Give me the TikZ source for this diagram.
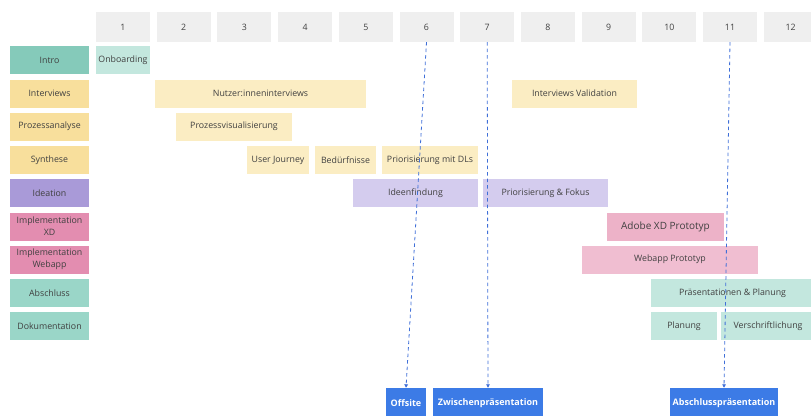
\documentclass[tikz,border=0pt]{standalone}
\usepackage{fontspec}
\setmainfont{Open Sans}
\usetikzlibrary{arrows.meta}

\definecolor{weekgray}{HTML}{EFEFEF}
\definecolor{introteal}{HTML}{85CABA}
\definecolor{laneyellow}{HTML}{F8DF9C}
\definecolor{lanepurple}{HTML}{A99AD8}
\definecolor{lanepink}{HTML}{E38DB0}
\definecolor{laneteal}{HTML}{9AD6C8}
\definecolor{barteal}{HTML}{C3E7DE}
\definecolor{baryellow}{HTML}{FBEDC3}
\definecolor{barpurple}{HTML}{D4CCEE}
\definecolor{barpink}{HTML}{EDB2C8}
\definecolor{barpinklight}{HTML}{F0BED1}
\definecolor{msblue}{HTML}{3C7BE6}
\definecolor{linkblue}{HTML}{3F6FD8}

\begin{document}
\begin{tikzpicture}[x=1pt, y=-1pt,
    box/.style={inner sep=0pt, align=center, text=black!75, font=\fontsize{8.8}{12}\selectfont},
    week/.style={box, fill=weekgray, minimum width=54pt, minimum height=30pt},
    lane/.style={box, minimum width=79pt, minimum height=28pt},
    task/.style={box, minimum height=28pt},
    milestone/.style={box, fill=msblue, text=white, font=\fontsize{9}{10}\selectfont\bfseries, minimum height=30pt},
    link/.style={draw=linkblue, line width=0.8pt, dash pattern=on 3.5pt off 3pt, -{Triangle[length=3.5pt, width=3.5pt]}}]
    \path[use as bounding box, clip] (0, 0) rectangle (811, 415);

    % weeks
    \foreach \i in {1, ..., 12} {
        \node[week] (w\i) at ({123 + 60.7*(\i - 1)}, 27) {\i};
    }

    % lanes
    \node[lane, fill=introteal] (intro) at (49.5, 60) {Intro};
    \node[lane, fill=laneyellow] (interviews) at (49.5, 93.5) {Interviews};
    \node[lane, fill=laneyellow] (analyse) at (49.5, 126.5) {Prozessanalyse};
    \node[lane, fill=laneyellow] (synthese) at (49.5, 160) {Synthese};
    \node[lane, fill=lanepurple] (ideation) at (49.5, 193) {Ideation};
    \node[lane, fill=lanepink] (implxd) at (49.5, 226.5) {Implementation\\XD};
    \node[lane, fill=lanepink] (implweb) at (49.5, 259.5) {Implementation\\Webapp};
    \node[lane, fill=laneteal] (abschluss) at (49.5, 293) {Abschluss};
    \node[lane, fill=laneteal] (doku) at (49.5, 326) {Dokumentation};

    % tasks
    \node[task, fill=barteal, minimum width=54pt] (onboarding) at (123, 60) {Onboarding};
    \node[task, fill=baryellow, minimum width=211pt] (nutzer) at (260.5, 93.5) {Nutzer:inneninterviews};
    \node[task, fill=baryellow, minimum width=125pt] (validation) at (574.5, 93.5) {Interviews Validation};
    \node[task, fill=baryellow, minimum width=116pt] (visual) at (234, 126.5) {Prozessvisualisierung};
    \node[task, fill=baryellow, minimum width=62pt] (journey) at (278, 160) {User Journey};
    \node[task, fill=baryellow, minimum width=61pt] (beduerfnisse) at (345.5, 160) {Bedürfnisse};
    \node[task, fill=baryellow, minimum width=96pt] (dls) at (430, 160) {Priorisierung mit DLs};
    \node[task, fill=barpurple, minimum width=125pt] (ideen) at (415.5, 193) {Ideenfindung};
    \node[task, fill=barpurple, minimum width=125pt] (fokus) at (545.5, 193) {Priorisierung \& Fokus};
    \node[task, fill=barpink, minimum width=117pt, font=\fontsize{10}{11}\selectfont] (xdproto) at (665.5, 227) {Adobe XD Prototyp};
    \node[task, fill=barpinklight, minimum width=176pt] (webproto) at (670, 259.5) {Webapp Prototyp};
    \node[task, fill=barteal, minimum width=163pt] (praes) at (732.5, 293) {Präsentationen \& Planung};
    \node[task, fill=barteal, minimum width=66pt] (planung) at (684, 326) {Planung};
    \node[task, fill=barteal, minimum width=94pt] (verschrift) at (768, 326) {Verschriftlichung};

    % milestones
    \node[milestone, minimum width=40pt] (offsite) at (406, 403) {Offsite};
    \node[milestone, minimum width=110pt] (zwischen) at (488, 403) {Zwischenpräsentation};
    \node[milestone, minimum width=108pt] (final) at (724, 403) {Abschlusspräsentation};

    \draw[link] (w6.south) -- (offsite.north);
    \draw[link] (w7.south) -- (zwischen.north);
    \draw[link] (w11.south) -- (final.north);
\end{tikzpicture}
\end{document}
